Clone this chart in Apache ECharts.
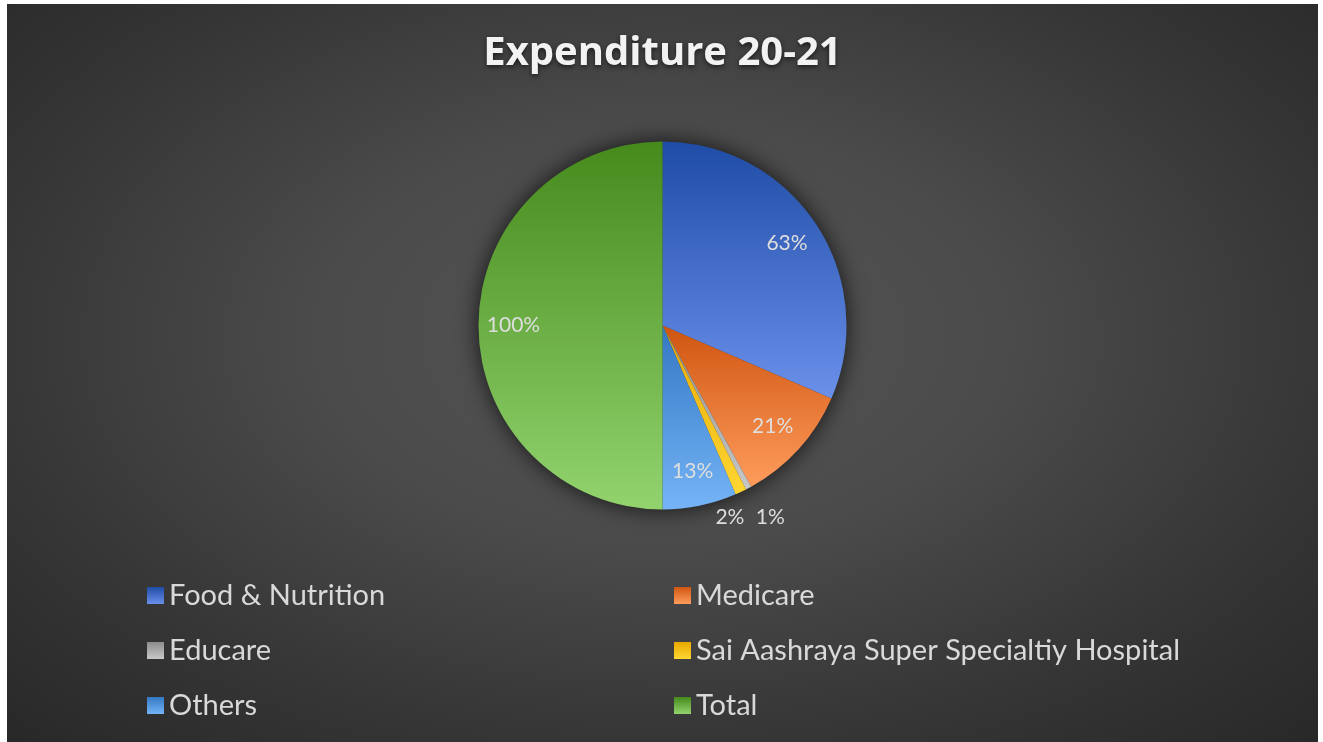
<!DOCTYPE html>
<html>
<head>
<meta charset="utf-8">
<script src="https://cdn.jsdelivr.net/npm/echarts@6/dist/echarts.min.js"></script>
<style>
  html, body { margin: 0; padding: 0; background: #ffffff; }
  #chart {
    position: absolute;
    left: 7px;
    top: 4px;
    width: 1311px;
    height: 738px;
    background: radial-gradient(ellipse 75% 80% at 50% 45%, #555555 0%, #4b4b4b 35%, #353535 70%, #262626 100%);
  }
</style>
</head>
<body>
<div id="chart"></div>
<script>
// chart data
const categories = ['Food & Nutrition', 'Medicare', 'Educare', 'Sai Aashraya Super Specialtiy Hospital', 'Others', 'Total'];
const values = [63, 21, 1, 2, 13, 100];

// slice colours (top -> bottom of each slice)
const sliceColors = [
  ['#1f4ca6', '#6a90ea'],
  ['#cf5510', '#ff9c5c'],
  ['#8c8c8c', '#c8c8c8'],
  ['#e8a800', '#ffd633'],
  ['#3478c2', '#74b4f7'],
  ['#468a1c', '#92d36e']
];

// small slices get their labels pushed out below the pie
const smallLabelOffset = { 2: [38, 60], 3: [4, 57] };

const center = [655.5, 321.5];
const radius = 184;

function grad(c) {
  return new echarts.graphic.LinearGradient(0, 0, 0, 1, [
    { offset: 0, color: c[0] },
    { offset: 1, color: c[1] }
  ]);
}

const pieData = categories.map((name, i) => ({
  name: name,
  value: values[i],
  itemStyle: { color: grad(sliceColors[i]) }
}));

const labelData = categories.map((name, i) => {
  const item = { name: name, value: values[i] };
  if (smallLabelOffset[i]) {
    item.label = { offset: smallLabelOffset[i] };
  }
  return item;
});

const total = values.reduce((a, b) => a + b, 0);

const myChart = echarts.init(document.getElementById('chart'));

const legendText = {
  color: '#d9d9d9',
  fontSize: 29,
  fontFamily: 'Lato',
  lineHeight: 33
};

const option = {
  backgroundColor: 'transparent',
  animation: false,
  title: {
    text: 'Expenditure 20-21',
    left: 'center',
    top: 25,
    textStyle: {
      color: '#f2f2f2',
      fontSize: 40,
      fontWeight: 'bold',
      fontFamily: 'Open Sans',
      textShadowColor: 'rgba(0,0,0,0.6)',
      textShadowBlur: 5,
      textShadowOffsetY: 2
    }
  },
  legend: [
    {
      orient: 'vertical',
      left: 135,
      top: 570,
      icon: 'rect',
      itemWidth: 17,
      itemHeight: 17,
      itemGap: 22,
      itemTextGap: 14,
      selectedMode: false,
      data: [categories[0], categories[2], categories[4]],
      textStyle: legendText
    },
    {
      orient: 'vertical',
      left: 662,
      top: 570,
      icon: 'rect',
      itemWidth: 17,
      itemHeight: 17,
      itemGap: 22,
      itemTextGap: 14,
      selectedMode: false,
      data: [categories[1], categories[3], categories[5]],
      textStyle: legendText
    }
  ],
  series: [
    {
      // shadow underneath the pie
      type: 'pie',
      center: center,
      radius: radius,
      silent: true,
      z: 1,
      label: { show: false },
      labelLine: { show: false },
      itemStyle: {
        color: '#333',
        shadowBlur: 22,
        shadowColor: 'rgba(0,0,0,0.75)'
      },
      data: [{ name: '_shadow', value: total }]
    },
    {
      type: 'pie',
      center: center,
      radius: radius,
      startAngle: 90,
      clockwise: true,
      z: 2,
      label: { show: false },
      labelLine: { show: false },
      itemStyle: { borderWidth: 0 },
      emphasis: { disabled: true },
      data: pieData
    },
    {
      // label layer
      type: 'pie',
      center: center,
      radius: [108, radius],
      startAngle: 90,
      clockwise: true,
      silent: true,
      z: 3,
      itemStyle: { color: 'rgba(0,0,0,0)' },
      labelLine: { show: false },
      label: {
        show: true,
        position: 'inside',
        formatter: '{c}%',
        color: '#dedede',
        fontSize: 21,
        fontFamily: 'Lato'
      },
      data: labelData
    }
  ]
};

myChart.setOption(option);

window.addEventListener('resize', () => myChart.resize());
</script>
</body>
</html>
